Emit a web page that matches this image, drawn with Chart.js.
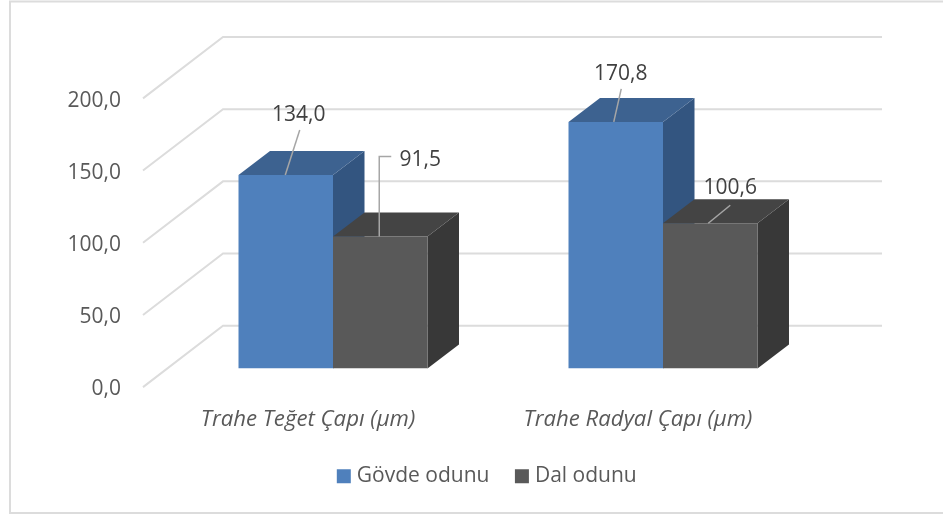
<!DOCTYPE html>
<html>
<head>
<meta charset="utf-8">
<style>html,body{margin:0;padding:0;background:#fff;overflow:hidden}canvas{display:block}</style>
<script src="https://cdn.jsdelivr.net/npm/chart.js@4"></script>
</head>
<body>
<canvas id="c" width="943" height="515"></canvas>
<script>
const categories = ["Trahe Teğet Çapı (µm)", "Trahe Radyal Çapı (µm)"];
const seriesNames = ["Gövde odunu", "Dal odunu"];
const govdeOdunu = [134.0, 170.8];
const dalOdunu = [91.5, 100.6];
const yTicks = [0, 50, 100, 150, 200];

const FONT = '"Open Sans", sans-serif';
const fmt = v => v.toFixed(1).replace('.', ',');

const faces = [
  {front: '#4f80bc', top: '#3d6290', side: '#335580'},
  {front: '#595959', top: '#444444', side: '#383838'}
];
const DX = 31.5, DY = 24;

// leader / label placement relative to each bar's top-centre
const leaders = [
  [ {text: [13, -60], path: [[-0.5, 0], [14, -45]]},
    {text: [40, -76], path: [[-1, 0], [-1, -80], [11, -80]]} ],
  [ {text: [5, -48], path: [[-2, 0], [5.5, -33]]},
    {text: [20, -35], path: [[-2, 0], [20, -18]]} ]
];

const depthPlugin = {
  id: 'depth',
  afterLayout(chart) {
    const lg = chart.legend;
    lg.left += 75; lg.right += 75;
    lg.top += 1.7; lg.bottom += 1.7;
  },
  beforeDraw(chart) {
    const ctx = chart.ctx;
    ctx.save();
    ctx.strokeStyle = '#dcdcdc';
    ctx.lineWidth = 2;
    ctx.strokeRect(10, 1.5, 1100, 511.5);
    ctx.restore();
  },
  beforeDatasetsDraw(chart) {
    const {ctx, scales: {x, y}} = chart;
    ctx.save();
    ctx.strokeStyle = '#dcdcdc';
    ctx.lineWidth = 2;
    yTicks.forEach(v => {
      const py = y.getPixelForValue(v);
      ctx.beginPath();
      ctx.moveTo(x.left - 25, py + 18.6);
      ctx.lineTo(x.left + 55, py - 42.8);
      ctx.lineTo(x.right + 54, py - 42.8);
      ctx.stroke();
    });
    chart.data.labels.forEach((_, j) => {
      chart.data.datasets.forEach((_, i) => {
        const b = chart.getDatasetMeta(i).data[j];
        const l = b.x - b.width / 2, r = b.x + b.width / 2;
        ctx.fillStyle = faces[i].side;
        ctx.beginPath();
        ctx.moveTo(r, b.y); ctx.lineTo(r + DX, b.y - DY);
        ctx.lineTo(r + DX, b.base - DY); ctx.lineTo(r, b.base);
        ctx.closePath(); ctx.fill();
        ctx.fillStyle = faces[i].top;
        ctx.beginPath();
        ctx.moveTo(l, b.y); ctx.lineTo(l + DX, b.y - DY);
        ctx.lineTo(r + DX, b.y - DY); ctx.lineTo(r, b.y);
        ctx.closePath(); ctx.fill();
      });
    });
    ctx.restore();
  },
  afterDatasetsDraw(chart) {
    const ctx = chart.ctx;
    ctx.save();
    ctx.font = '21px ' + FONT;
    ctx.textAlign = 'center';
    ctx.textBaseline = 'middle';
    chart.data.datasets.forEach((ds, i) => {
      ds.data.forEach((v, j) => {
        const b = chart.getDatasetMeta(i).data[j];
        const L = leaders[j][i];
        ctx.strokeStyle = '#a6a6a6';
        ctx.lineWidth = 1.5;
        ctx.beginPath();
        L.path.forEach((p, k) => {
          const px = b.x + p[0], py = b.y + p[1];
          k ? ctx.lineTo(px, py) : ctx.moveTo(px, py);
        });
        ctx.stroke();
        ctx.fillStyle = '#404040';
        ctx.fillText(fmt(v), b.x + L.text[0], b.y + L.text[1]);
      });
    });
    ctx.restore();
  }
};

new Chart(document.getElementById('c'), {
  type: 'bar',
  data: {
    labels: categories,
    datasets: [
      {label: seriesNames[0], data: govdeOdunu, backgroundColor: faces[0].front, borderWidth: 0, categoryPercentage: 0.5727, barPercentage: 1},
      {label: seriesNames[1], data: dalOdunu, backgroundColor: faces[1].front, borderWidth: 0, categoryPercentage: 0.5727, barPercentage: 1}
    ]
  },
  plugins: [depthPlugin],
  options: {
    responsive: false,
    animation: false,
    devicePixelRatio: 1,
    layout: {padding: {top: 79.8, right: 115, left: 0, bottom: 20}},
    plugins: {
      tooltip: {enabled: false},
      title: {display: false},
      legend: {
        position: 'bottom',
        labels: {
          usePointStyle: true,
          pointStyle: 'rect',
          boxWidth: 5,
          boxHeight: 14,
          padding: 30,
          color: '#595959',
          font: {family: FONT, size: 21}
        }
      }
    },
    scales: {
      x: {
        grid: {display: false},
        border: {display: false},
        ticks: {
          padding: 30,
          labelOffset: -25,
          maxRotation: 0,
          color: '#595959',
          font: {family: FONT, size: 22.2, style: 'italic'}
        },
        afterFit(s) { s.height = 65.5; }
      },
      y: {
        min: 0,
        max: 200,
        afterBuildTicks(s) { s.ticks = yTicks.map(v => ({value: v})); },
        grid: {display: false, drawTicks: false},
        border: {display: false},
        ticks: {
          padding: 47,
          labelOffset: 21,
          color: '#595959',
          font: {family: FONT, size: 21},
          callback: v => fmt(v)
        },
        afterFit(s) { s.width = 168; }
      }
    }
  }
});
</script>
</body>
</html>
